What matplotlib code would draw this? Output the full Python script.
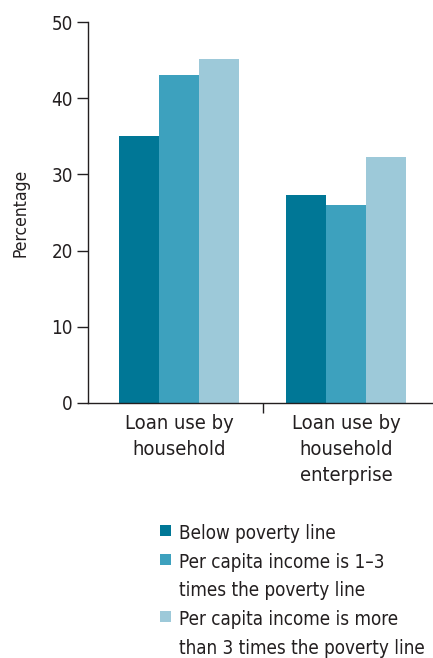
import matplotlib
matplotlib.use("Agg")
import matplotlib.pyplot as plt
from matplotlib.patches import Rectangle
import numpy as np

plt.rcParams['font.family'] = ['DejaVu Sans']
plt.rcParams['font.stretch'] = 'condensed'

categories = ["Loan use by\nhousehold", "Loan use by\nhousehold\nenterprise"]
series_names = ["Below poverty line",
                "Per capita income is 1\u20133\ntimes the poverty line",
                "Per capita income is more\nthan 3 times the poverty line"]
below_poverty = [35.0, 27.3]
income_1_3 = [43.1, 26.0]
income_above_3 = [45.2, 32.3]
y_ticks = [0, 10, 20, 30, 40, 50]
y_label = "Percentage"

colors = ["#007796", "#3DA1BE", "#9DC9D9"]
text_color = "#231F20"

W, H = 433, 658
fig = plt.figure(figsize=(W / 100, H / 100), dpi=100)
ax = fig.add_axes([88 / W, 1 - 403 / H, (433 - 88) / W, (403 - 22) / H])

x = np.arange(len(categories))
width = 0.24
for i, (vals, c) in enumerate(zip([below_poverty, income_1_3, income_above_3], colors)):
    ax.bar(x + (i - 1) * width, vals, width=width, color=c, linewidth=0)

ax.set_xlim(-0.545, 1.521)
ax.set_ylim(0, 50)
ax.set_yticks(y_ticks)
ax.set_yticklabels([str(t) for t in y_ticks], fontsize=13.5, color=text_color)
ax.tick_params(axis='y', length=8, width=1, color=text_color, pad=3)
ax.set_xticks(x)
ax.set_xticklabels(categories, fontsize=14.5, color=text_color, linespacing=1.45)
ax.tick_params(axis='x', which='major', length=0, pad=8)
ax.set_xticks([0.5], minor=True)
ax.tick_params(axis='x', which='minor', length=7, width=1, color=text_color)
ax.set_ylabel(y_label, fontsize=12.5, color=text_color, labelpad=16)

for s in ['top', 'right']:
    ax.spines[s].set_visible(False)
for s in ['left', 'bottom']:
    ax.spines[s].set_color(text_color)
    ax.spines[s].set_linewidth(1)

# legend drawn manually: square aligned with first line of each label
line_step = 28.5
first_baselines = [539, 568, 625]
for name, c, b in zip(series_names, colors, first_baselines):
    fig.patches.append(Rectangle((160 / W, 1 - (b - 3) / H), 11 / W, 11 / H,
                                 transform=fig.transFigure, facecolor=c, edgecolor='none'))
    for k, line in enumerate(name.split("\n")):
        fig.text(179 / W, 1 - (b + k * line_step) / H, line, fontsize=13.5,
                 color=text_color, va='baseline', ha='left')

fig.savefig("out.png", dpi=100)
